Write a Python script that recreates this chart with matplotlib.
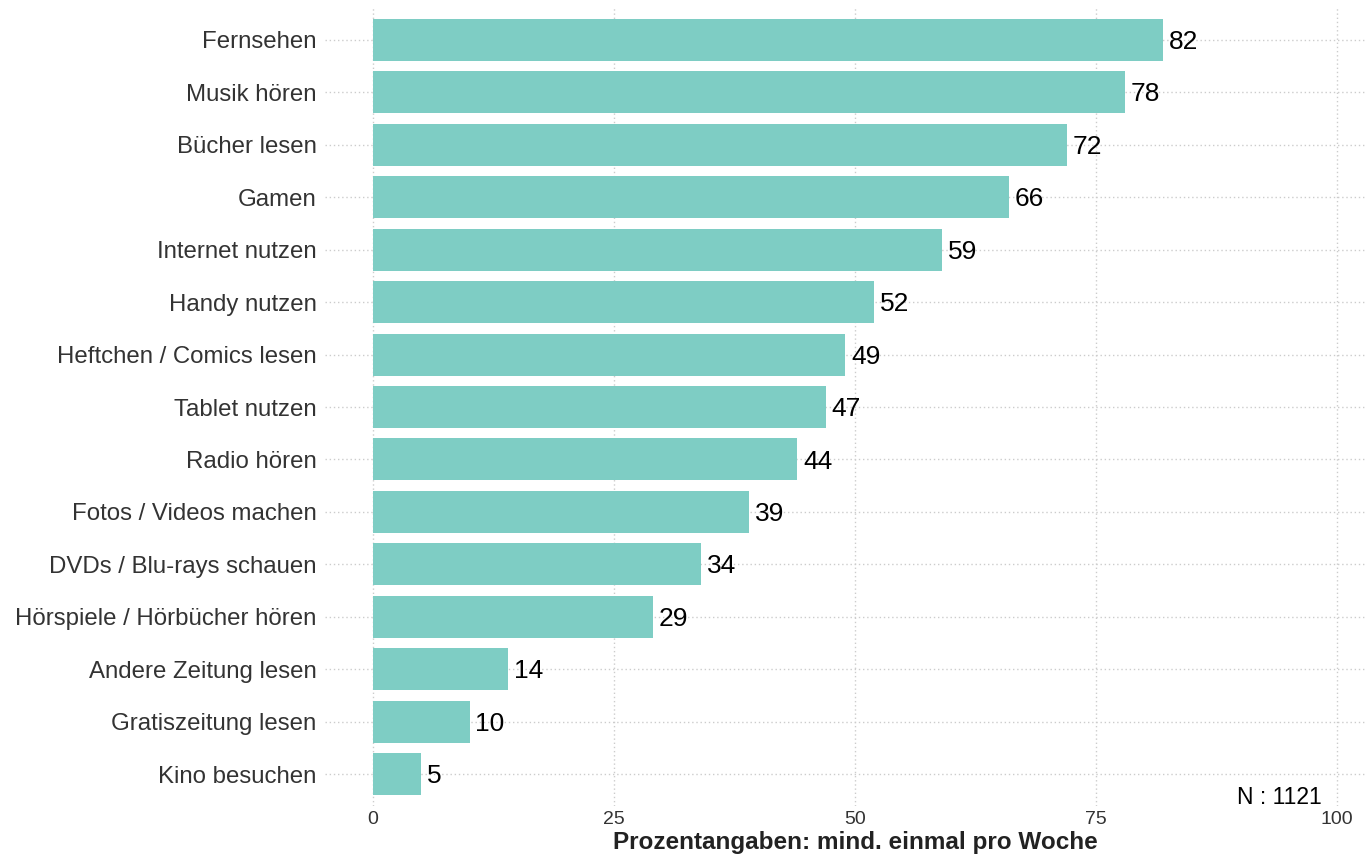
import matplotlib.pyplot as plt

plt.rcParams['font.family'] = ['Liberation Sans', 'DejaVu Sans']

kategorien = ['Fernsehen', 'Musik hören', 'Bücher lesen', 'Gamen', 'Internet nutzen',
              'Handy nutzen', 'Heftchen / Comics lesen', 'Tablet nutzen', 'Radio hören',
              'Fotos / Videos machen', 'DVDs / Blu-rays schauen', 'Hörspiele / Hörbücher hören',
              'Andere Zeitung lesen', 'Gratiszeitung lesen', 'Kino besuchen']
werte = [82, 78, 72, 66, 59, 52, 49, 47, 44, 39, 34, 29, 14, 10, 5]
ticks_x = [0, 25, 50, 75, 100]

fig = plt.figure(figsize=(13.66, 8.55), dpi=100)
# panel ragt rechts etwas ueber den Bildrand hinaus (wie im Original)
ax = fig.add_axes([325 / 1366, 49.5 / 855, 1060 / 1366, 797 / 855])

n = len(kategorien)
pos = list(range(n, 0, -1))
ax.barh(pos, werte, height=0.8, color='#7ecdc4', zorder=2)

for p, w in zip(pos, werte):
    ax.text(w + 0.6, p - 0.04, str(w), va='center', ha='left', fontsize=19, color='black', zorder=3)

ax.set_xlim(-5, 105)
ax.set_ylim(0.4, n + 0.6)
ax.set_yticks(pos)
ax.set_yticklabels(kategorien, fontsize=17.3, color='#333333')
ax.set_xticks(ticks_x)
ax.set_xticklabels([str(t) for t in ticks_x], fontsize=14, color='#333333')
ax.tick_params(length=0, pad=4)
ax.tick_params(axis='y', pad=6)

ax.grid(True, color='#cccccc', linestyle=(0, (1, 2)), linewidth=1.0, zorder=0)
for s in ax.spines.values():
    s.set_visible(False)

ax.set_xlabel('Prozentangaben: mind. einmal pro Woche', fontsize=17.5, fontweight='bold',
              color='#222222', labelpad=2)

# N-Angabe in Pixelkoordinaten (y von unten)
fig.text(1322 / 1366, (855 - 797) / 855, 'N : 1121', fontsize=16.5, ha='right', va='center',
         color='black')

fig.savefig('out.png', dpi=100)
